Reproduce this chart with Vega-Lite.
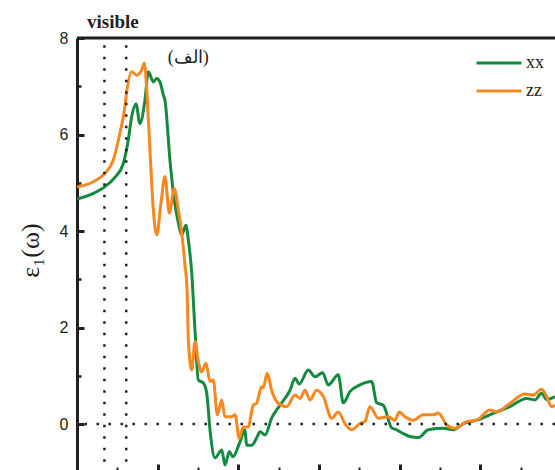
{
  "$schema": "https://vega.github.io/schema/vega-lite/v6.json",
  "width": 478,
  "height": 432,
  "autosize": {"type": "none"},
  "padding": {"left": 77, "top": 38, "right": 0, "bottom": 0},
  "background": "white",
  "config": {"view": {"stroke": null}, "font": "Liberation Sans"},
  "title": {"text": "visible", "anchor": "start", "frame": "group", "dx": 10, "offset": -17, "baseline": "alphabetic", "font": "Liberation Serif", "fontSize": 19, "fontWeight": "bold", "color": "#231f20"},
  "layer": [
    {
      "data": {"values": [
        {"x":0,"y":4.66,"s":"xx"},{"x":1.01,"y":4.78,"s":"xx"},{"x":1.69,"y":4.91,"s":"xx"},{"x":2.35,"y":5.11,"s":"xx"},{"x":2.87,"y":5.40,"s":"xx"},{"x":3.18,"y":5.89,"s":"xx"},{"x":3.39,"y":6.37,"s":"xx"},{"x":3.66,"y":6.63,"s":"xx"},{"x":3.90,"y":6.23,"s":"xx"},{"x":4.21,"y":6.71,"s":"xx"},{"x":4.42,"y":7.30,"s":"xx"},{"x":4.73,"y":7.09,"s":"xx"},{"x":4.94,"y":7.16,"s":"xx"},{"x":5.14,"y":7.09,"s":"xx"},{"x":5.35,"y":6.82,"s":"xx"},{"x":5.45,"y":6.71,"s":"xx"},{"x":5.76,"y":5.47,"s":"xx"},{"x":5.97,"y":4.79,"s":"xx"},{"x":6.28,"y":4.17,"s":"xx"},{"x":6.49,"y":3.92,"s":"xx"},{"x":6.75,"y":4.12,"s":"xx"},{"x":6.90,"y":3.81,"s":"xx"},{"x":7.11,"y":3.13,"s":"xx"},{"x":7.31,"y":1.95,"s":"xx"},{"x":7.52,"y":0.91,"s":"xx"},{"x":7.83,"y":0.85,"s":"xx"},{"x":8.04,"y":0.64,"s":"xx"},{"x":8.24,"y":-0.12,"s":"xx"},{"x":8.55,"y":-0.70,"s":"xx"},{"x":8.97,"y":-0.54,"s":"xx"},{"x":9.17,"y":-0.85,"s":"xx"},{"x":9.44,"y":-0.57,"s":"xx"},{"x":9.65,"y":-0.68,"s":"xx"},{"x":10.10,"y":-0.37,"s":"xx"},{"x":10.41,"y":-0.12,"s":"xx"},{"x":10.51,"y":-0.44,"s":"xx"},{"x":10.82,"y":-0.44,"s":"xx"},{"x":11.13,"y":-0.29,"s":"xx"},{"x":11.34,"y":-0.16,"s":"xx"},{"x":11.65,"y":-0.23,"s":"xx"},{"x":12.06,"y":0.12,"s":"xx"},{"x":12.58,"y":0.39,"s":"xx"},{"x":13.20,"y":0.70,"s":"xx"},{"x":13.51,"y":0.95,"s":"xx"},{"x":13.77,"y":0.83,"s":"xx"},{"x":14.33,"y":1.12,"s":"xx"},{"x":14.75,"y":0.98,"s":"xx"},{"x":15.22,"y":1.06,"s":"xx"},{"x":15.57,"y":0.81,"s":"xx"},{"x":16.19,"y":1.02,"s":"xx"},{"x":16.50,"y":0.44,"s":"xx"},{"x":16.91,"y":0.67,"s":"xx"},{"x":17.53,"y":0.81,"s":"xx"},{"x":18.26,"y":0.88,"s":"xx"},{"x":18.57,"y":0.44,"s":"xx"},{"x":18.98,"y":0.39,"s":"xx"},{"x":19.50,"y":-0.08,"s":"xx"},{"x":19.81,"y":-0.12,"s":"xx"},{"x":20.12,"y":-0.18,"s":"xx"},{"x":20.63,"y":-0.26,"s":"xx"},{"x":21.15,"y":-0.28,"s":"xx"},{"x":21.77,"y":-0.12,"s":"xx"},{"x":22.70,"y":-0.09,"s":"xx"},{"x":23.32,"y":-0.12,"s":"xx"},{"x":23.94,"y":0.01,"s":"xx"},{"x":24.77,"y":0.08,"s":"xx"},{"x":25.79,"y":0.22,"s":"xx"},{"x":26.83,"y":0.36,"s":"xx"},{"x":27.86,"y":0.53,"s":"xx"},{"x":28.38,"y":0.50,"s":"xx"},{"x":28.79,"y":0.64,"s":"xx"},{"x":29.10,"y":0.51,"s":"xx"},{"x":29.62,"y":0.57,"s":"xx"},
        {"x":0,"y":4.91,"s":"zz"},{"x":1.01,"y":5.02,"s":"zz"},{"x":1.69,"y":5.18,"s":"zz"},{"x":2.25,"y":5.47,"s":"zz"},{"x":2.66,"y":6.03,"s":"zz"},{"x":2.97,"y":6.58,"s":"zz"},{"x":3.04,"y":6.78,"s":"zz"},{"x":3.39,"y":7.30,"s":"zz"},{"x":3.70,"y":7.23,"s":"zz"},{"x":4.01,"y":7.34,"s":"zz"},{"x":4.17,"y":7.48,"s":"zz"},{"x":4.36,"y":6.71,"s":"zz"},{"x":4.52,"y":5.68,"s":"zz"},{"x":4.73,"y":4.44,"s":"zz"},{"x":4.94,"y":3.92,"s":"zz"},{"x":5.20,"y":4.57,"s":"zz"},{"x":5.45,"y":5.13,"s":"zz"},{"x":5.72,"y":4.37,"s":"zz"},{"x":6.03,"y":4.88,"s":"zz"},{"x":6.28,"y":4.44,"s":"zz"},{"x":6.49,"y":3.96,"s":"zz"},{"x":6.69,"y":3.30,"s":"zz"},{"x":6.82,"y":2.78,"s":"zz"},{"x":6.90,"y":1.74,"s":"zz"},{"x":7.11,"y":1.12,"s":"zz"},{"x":7.31,"y":1.71,"s":"zz"},{"x":7.52,"y":1.29,"s":"zz"},{"x":7.73,"y":1.08,"s":"zz"},{"x":7.99,"y":1.26,"s":"zz"},{"x":8.24,"y":0.88,"s":"zz"},{"x":8.45,"y":0.91,"s":"zz"},{"x":8.69,"y":0.19,"s":"zz"},{"x":8.97,"y":0.50,"s":"zz"},{"x":9.17,"y":0.15,"s":"zz"},{"x":9.58,"y":0.15,"s":"zz"},{"x":9.79,"y":0.19,"s":"zz"},{"x":10.06,"y":-0.30,"s":"zz"},{"x":10.30,"y":-0.06,"s":"zz"},{"x":10.61,"y":-0.06,"s":"zz"},{"x":10.92,"y":0.39,"s":"zz"},{"x":11.13,"y":0.43,"s":"zz"},{"x":11.44,"y":0.77,"s":"zz"},{"x":11.54,"y":0.75,"s":"zz"},{"x":11.79,"y":1.05,"s":"zz"},{"x":12.06,"y":0.70,"s":"zz"},{"x":12.47,"y":0.43,"s":"zz"},{"x":12.99,"y":0.36,"s":"zz"},{"x":13.51,"y":0.60,"s":"zz"},{"x":13.82,"y":0.53,"s":"zz"},{"x":14.13,"y":0.70,"s":"zz"},{"x":14.44,"y":0.50,"s":"zz"},{"x":14.85,"y":0.70,"s":"zz"},{"x":15.26,"y":0.57,"s":"zz"},{"x":15.78,"y":0.12,"s":"zz"},{"x":16.19,"y":0.25,"s":"zz"},{"x":16.60,"y":0.01,"s":"zz"},{"x":17.02,"y":-0.12,"s":"zz"},{"x":17.53,"y":0.01,"s":"zz"},{"x":17.84,"y":0.05,"s":"zz"},{"x":18.15,"y":0.36,"s":"zz"},{"x":18.67,"y":0.12,"s":"zz"},{"x":19.29,"y":0.15,"s":"zz"},{"x":19.70,"y":0.08,"s":"zz"},{"x":19.97,"y":0.25,"s":"zz"},{"x":20.32,"y":0.15,"s":"zz"},{"x":20.84,"y":0.08,"s":"zz"},{"x":21.46,"y":0.19,"s":"zz"},{"x":22.08,"y":0.19,"s":"zz"},{"x":22.39,"y":0.23,"s":"zz"},{"x":22.91,"y":-0.02,"s":"zz"},{"x":23.42,"y":-0.09,"s":"zz"},{"x":24.14,"y":0.05,"s":"zz"},{"x":24.76,"y":0.08,"s":"zz"},{"x":25.59,"y":0.29,"s":"zz"},{"x":26.00,"y":0.25,"s":"zz"},{"x":26.83,"y":0.43,"s":"zz"},{"x":27.76,"y":0.62,"s":"zz"},{"x":28.27,"y":0.60,"s":"zz"},{"x":28.79,"y":0.72,"s":"zz"},{"x":29.10,"y":0.57,"s":"zz"},{"x":29.41,"y":0.36,"s":"zz"},{"x":29.62,"y":0.39,"s":"zz"}
      ]},
      "mark": {"type": "line", "interpolate": "monotone", "strokeWidth": 3, "clip": true},
      "encoding": {
        "x": {"field": "x", "type": "quantitative", "scale": {"domain": [0, 29.62], "nice": false, "zero": false},
          "axis": {"values": [0,1.25,2.5,3.75,5,6.25,7.5,8.75,10,11.25,12.5,13.75,15,16.25,17.5,18.75,20,21.25,22.5,23.75,25,26.25,27.5,28.75],
            "labels": false, "domain": false, "title": null, "grid": false, "tickColor": "#231f20",
            "tickSize": {"condition": {"test": "datum.value % 5 === 0", "value": -6}, "value": -3},
            "tickWidth": {"condition": {"test": "datum.value % 5 === 0", "value": 3}, "value": 2}}},
        "y": {"field": "y", "type": "quantitative", "scale": {"domain": [-0.953, 8], "nice": false, "zero": false},
          "axis": {"values": [0,1,2,3,4,5,6,7,8], "title": "ε₁(ω)", "grid": false,
            "domainColor": "#231f20", "domainWidth": 3, "tickColor": "#231f20",
            "tickSize": {"condition": {"test": "datum.value % 2 === 0", "value": -7}, "value": -4},
            "tickWidth": {"condition": {"test": "datum.value % 2 === 0", "value": 3}, "value": 2.5},
            "labelExpr": "datum.value % 2 === 0 ? datum.label : ''",
            "labelFont": "Liberation Sans", "labelFontSize": 16, "labelColor": "#231f20", "labelPadding": 16,
            "titleFont": "Liberation Serif", "titleFontSize": 26, "titleFontWeight": "normal", "titleColor": "#231f20",
            "titleAngle": 270, "titleX": -47, "titleY": 212, "titleAlign": "center", "titleBaseline": "middle"}},
        "color": {"field": "s", "type": "nominal", "scale": {"domain": ["xx", "zz"], "range": ["#138a3e", "#f7871f"]},
          "legend": {"orient": "none", "legendX": 409, "legendY": 12, "title": null, "symbolType": "M-2,0H2", "symbolSize": 506,
            "symbolStrokeWidth": 3, "symbolFillColor": "transparent", "labelFont": "Liberation Serif", "labelFontSize": 18, "labelColor": "#231f20", "labelOffset": 14, "rowPadding": 6}}
      }
    },
    {
      "data": {"values": [{"x": 1.7}, {"x": 3.05}]},
      "mark": {"type": "rule", "strokeDash": [2.5, 9], "strokeWidth": 2.5, "color": "#231f20", "clip": true},
      "encoding": {
        "x": {"field": "x", "type": "quantitative"},
        "y": {"datum": 7.85, "type": "quantitative"},
        "y2": {"datum": -0.953}
      }
    },
    {
      "data": {"values": [{"y": 0}]},
      "mark": {"type": "rule", "strokeDash": [2.5, 9.5], "strokeWidth": 2.5, "color": "#231f20"},
      "encoding": {"y": {"field": "y", "type": "quantitative"}}
    },
    {
      "data": {"values": [{"y": 8}]},
      "mark": {"type": "rule", "strokeWidth": 3, "color": "#231f20"},
      "encoding": {"y": {"field": "y", "type": "quantitative"}}
    },
    {
      "data": {"values": [{"x": 6.9, "y": 7.59, "t": "(الف)"}]},
      "mark": {"type": "text", "fontSize": 18, "font": "Liberation Serif", "color": "#231f20"},
      "encoding": {
        "x": {"field": "x", "type": "quantitative"},
        "y": {"field": "y", "type": "quantitative"},
        "text": {"field": "t"}
      }
    }
  ]
}
